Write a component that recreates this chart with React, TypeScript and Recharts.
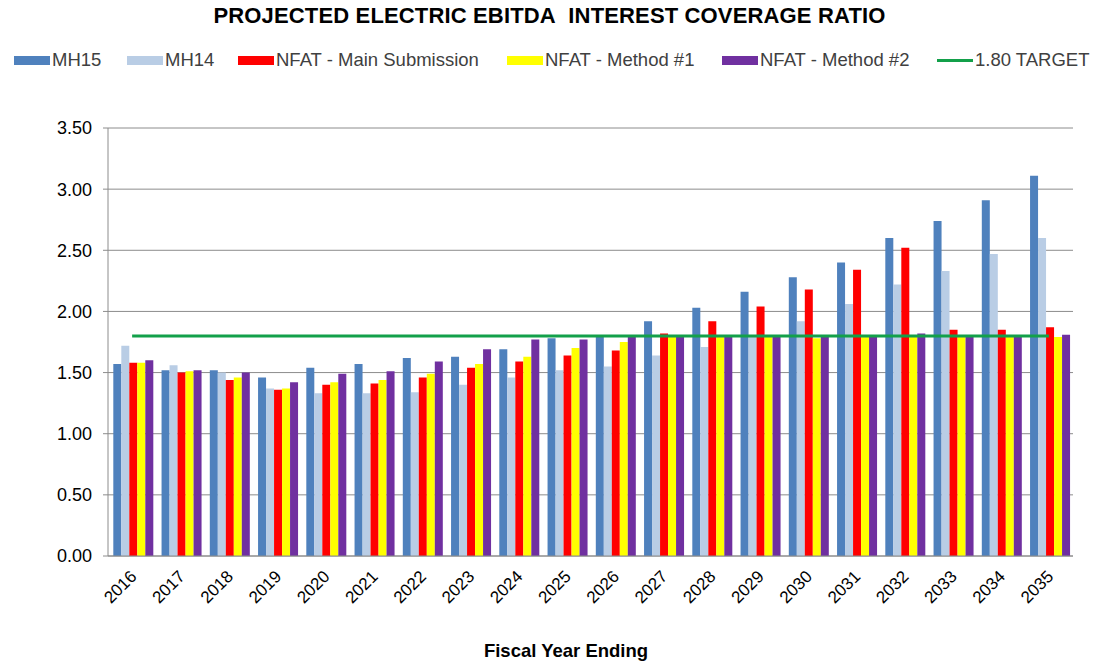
import { ComposedChart, Bar, Line, XAxis, YAxis, CartesianGrid } from "recharts";

const years = ["2016","2017","2018","2019","2020","2021","2022","2023","2024","2025","2026","2027","2028","2029","2030","2031","2032","2033","2034","2035"];
const mh15 = [1.57,1.52,1.52,1.46,1.54,1.57,1.62,1.63,1.69,1.78,1.79,1.92,2.03,2.16,2.28,2.40,2.60,2.74,2.91,3.11];
const mh14 = [1.72,1.56,1.50,1.37,1.33,1.33,1.34,1.40,1.46,1.52,1.55,1.64,1.71,1.79,1.92,2.06,2.22,2.33,2.47,2.60];
const nfatMain = [1.58,1.50,1.44,1.36,1.40,1.41,1.46,1.54,1.59,1.64,1.68,1.82,1.92,2.04,2.18,2.34,2.52,1.85,1.85,1.87];
const nfatM1 = [1.58,1.51,1.46,1.37,1.42,1.44,1.49,1.57,1.63,1.70,1.75,1.79,1.79,1.79,1.78,1.79,1.79,1.79,1.79,1.79];
const nfatM2 = [1.60,1.52,1.50,1.42,1.49,1.51,1.59,1.69,1.77,1.77,1.79,1.79,1.79,1.79,1.79,1.79,1.82,1.79,1.79,1.81];
const target = 1.8;
const yTicks = [0, 0.5, 1, 1.5, 2, 2.5, 3, 3.5];

const C = { mh15: "#4f81bd", mh14: "#b9cde5", red: "#ff0000", yellow: "#ffff00", purple: "#7030a0", green: "#13a04a", grid: "#8c8c8c" };

const data = years.map((y, i) => ({
  year: y, mh15: mh15[i], mh14: mh14[i], main: nfatMain[i], m1: nfatM1[i], m2: nfatM2[i], target,
}));

const legend = [
  { name: "MH15", color: C.mh15, left: 14 },
  { name: "MH14", color: C.mh14, left: 127 },
  { name: "NFAT - Main Submission", color: C.red, left: 238 },
  { name: "NFAT - Method #1", color: C.yellow, left: 507 },
  { name: "NFAT - Method #2", color: C.purple, left: 722 },
];

const font = "Arial, 'Liberation Sans', sans-serif";

export default function App() {
  return (
    <div style={{ position: "absolute", left: 0, top: 0, width: 1099, height: 666, background: "#fff", fontFamily: font }}>
      <div style={{ position: "absolute", top: 3, left: 0, width: 1099, textAlign: "center", fontSize: 22, fontWeight: 700, color: "#000", letterSpacing: 0.15 }}>
        PROJECTED ELECTRIC EBITDA&nbsp; INTEREST COVERAGE RATIO
      </div>
      {legend.map((l) => (
        <div key={l.name} style={{ position: "absolute", top: 49, left: l.left, display: "flex", alignItems: "center", fontSize: 18.5, color: "#404040" }}>
          <div style={{ width: 36, height: 9, background: l.color, marginRight: 2 }} />
          <span>{l.name}</span>
        </div>
      ))}
      <div style={{ position: "absolute", top: 49, left: 937, display: "flex", alignItems: "center", fontSize: 18.5, color: "#404040" }}>
        <div style={{ width: 36, height: 3, background: C.green, marginRight: 2 }} />
        <span>1.80 TARGET</span>
      </div>

      <ComposedChart width={1099} height={666} data={data} margin={{ top: 128, right: 26, bottom: 0, left: 0 }} barCategoryGap="11%" barGap={0}>
        <CartesianGrid vertical={false} stroke={C.grid} />
        <XAxis dataKey="year" height={110} interval={0} angle={-45} textAnchor="end" tickLine={false}
          stroke={C.grid} tick={{ fill: "#000", fontSize: 17, fontFamily: font, dx: -3, dy: 5 }} />
        <YAxis width={108} domain={[0, 3.5]} ticks={yTicks} tickFormatter={(v) => v.toFixed(2)} tickSize={5} tickMargin={11}
          stroke={C.grid} tick={{ fill: "#000", fontSize: 18, fontFamily: font }} />
        <Bar dataKey="mh15" fill={C.mh15} isAnimationActive={false} />
        <Bar dataKey="mh14" fill={C.mh14} isAnimationActive={false} />
        <Bar dataKey="main" fill={C.red} isAnimationActive={false} />
        <Bar dataKey="m1" fill={C.yellow} isAnimationActive={false} />
        <Bar dataKey="m2" fill={C.purple} isAnimationActive={false} />
        <Line dataKey="target" stroke={C.green} strokeWidth={3} dot={false} isAnimationActive={false} />
      </ComposedChart>

      <div style={{ position: "absolute", top: 640, left: 0, width: 1132, textAlign: "center", fontSize: 18.5, fontWeight: 700, color: "#000" }}>
        Fiscal Year Ending
      </div>
    </div>
  );
}
